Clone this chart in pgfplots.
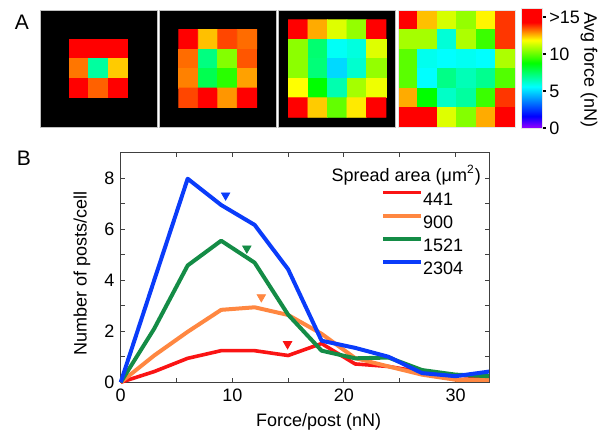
\documentclass[border=0pt]{standalone}
\usepackage{fontspec}
\setmainfont{Liberation Sans}
\usepackage{pgfplots}
\pgfplotsset{compat=1.18}
\pgfplotsset{colormap={force}{rgb255(0cm)=(150,0,255) rgb255(1.6cm)=(0,0,255) rgb255(5.6cm)=(0,255,255) rgb255(8.8cm)=(0,255,0) rgb255(11.9cm)=(255,255,0) rgb255(13cm)=(255,140,0) rgb255(14.3cm)=(255,0,0) rgb255(16.2cm)=(255,0,0)}}
\definecolor{cRed}{RGB}{250,20,20}
\definecolor{cOrange}{RGB}{255,135,65}
\definecolor{cGreen}{RGB}{20,140,70}
\definecolor{cBlue}{RGB}{10,60,250}
\begin{document}
\fontsize{9}{10.8}\selectfont
\begin{tikzpicture}
% ---------------- Panel A ----------------
\begin{axis}[
  at={(20pt,-4.5pt)}, anchor=north west,
  scale only axis, width=237.5pt, height=59pt,
  xmin=40, xmax=515, ymin=9, ymax=127, y dir=reverse,
  hide axis, clip=false,
  colormap name=force, point meta min=0, point meta max=16.2,
  colorbar,
  colorbar style={
    at={(parent axis.north east)}, anchor=north west, xshift=-5.2pt, yshift=0.35pt,
    scale only axis, width=10.5pt, height=59.85pt,
    ytick={0,5,10,15}, yticklabels={0,5,10,{>15}},
    yticklabel pos=right, ytick pos=right,
    tick align=outside, major tick length=1.6pt,
    ytick style={black, line width=0.8pt},
    axis line style={draw=black!10, line width=0.3pt},
    yticklabel style={font=\fontsize{9}{10.8}\selectfont, inner sep=1.5pt},
  },
]
\fill[black] (axis cs:40,10) rectangle (axis cs:157,127);
\fill[black] (axis cs:159.33,10) rectangle (axis cs:276.33,127);
\fill[black] (axis cs:278.67,10) rectangle (axis cs:395.67,127);
\addplot[matrix plot*, mesh/cols=3, point meta=explicit]
 table[row sep=\\, x expr={79+19.5*\thisrow{i}}, y expr={49+19.5*\thisrow{j}}, meta=c] {
 i j c\\
 0 0 15\\ 1 0 15\\ 2 0 15\\
 0 1 13.2\\ 1 1 6.8\\ 2 1 12.4\\
 0 2 15\\ 1 2 13.4\\ 2 2 15\\
};
\addplot[matrix plot*, mesh/cols=4, point meta=explicit]
 table[row sep=\\, x expr={188.58+19.5*\thisrow{i}}, y expr={39.25+19.5*\thisrow{j}}, meta=c] {
 i j c\\
 0 0 15\\ 1 0 12.5\\ 2 0 13.65\\ 3 0 13.3\\
 0 1 13.3\\ 1 1 7.2\\ 2 1 10.4\\ 3 1 13.5\\
 0 2 13.1\\ 1 2 7.8\\ 2 2 9.3\\ 3 2 12.8\\
 0 3 13.65\\ 1 3 15\\ 2 3 12.9\\ 3 3 15\\
};
\addplot[matrix plot*, mesh/cols=5, point meta=explicit]
 table[row sep=\\, x expr={298.17+19.5*\thisrow{i}}, y expr={29.5+19.5*\thisrow{j}}, meta=c] {
 i j c\\
 0 0 15\\ 1 0 12.7\\ 2 0 11.5\\ 3 0 10.6\\ 4 0 15\\
 0 1 10.5\\ 1 1 7.4\\ 2 1 5.7\\ 3 1 6.0\\ 4 1 11.5\\
 0 2 10.5\\ 1 2 7.3\\ 2 2 5.0\\ 3 2 6.2\\ 4 2 10.6\\
 0 3 11.9\\ 1 3 8.8\\ 2 3 6.6\\ 3 3 10.8\\ 4 3 11.7\\
 0 4 15\\ 1 4 12.4\\ 2 4 10.0\\ 3 4 12.1\\ 4 4 15\\
};
\addplot[matrix plot*, mesh/cols=6, point meta=explicit]
 table[row sep=\\, x expr={407.75+19.5*\thisrow{i}}, y expr={19.75+19.5*\thisrow{j}}, meta=c] {
 i j c\\
 0 0 15\\ 1 0 12.5\\ 2 0 11.4\\ 3 0 10.6\\ 4 0 12.0\\ 5 0 13.8\\
 0 1 10.8\\ 1 1 10.8\\ 2 1 6.1\\ 3 1 10.9\\ 4 1 9.5\\ 5 1 13.8\\
 0 2 9.9\\ 1 2 5.8\\ 2 2 5.6\\ 3 2 5.75\\ 4 2 5.6\\ 5 2 10.9\\
 0 3 9.9\\ 1 3 5.6\\ 2 3 7.1\\ 3 3 6.5\\ 4 3 7.0\\ 5 3 9.8\\
 0 4 12.7\\ 1 4 8.8\\ 2 4 6.3\\ 3 4 6.8\\ 4 4 9.5\\ 5 4 13.8\\
 0 5 15\\ 1 5 15\\ 2 5 11.5\\ 3 5 10.4\\ 4 5 12.7\\ 5 5 14.4\\
};
\draw[black!25, line width=0.4pt] (axis cs:40,10) rectangle (axis cs:157,127);
\draw[black!25, line width=0.4pt] (axis cs:159.33,10) rectangle (axis cs:276.33,127);
\draw[black!25, line width=0.4pt] (axis cs:278.67,10) rectangle (axis cs:395.67,127);
\draw[black!10, line width=0.4pt] (axis cs:398,10) rectangle (axis cs:515,127);
\end{axis}
\node[rotate=-90, inner sep=0pt] at (294.5pt,-35pt) {Avg force (nN)};
\node[font=\fontsize{10.5}{12}\selectfont, inner sep=0pt] at (11pt,-11pt) {A};
\node[font=\fontsize{10.5}{12}\selectfont, inner sep=0pt] at (12pt,-79.25pt) {B};
% ---------------- Panel B ----------------
\begin{axis}[
  at={(60.35pt,-76.35pt)}, anchor=north west,
  scale only axis, width=184.15pt, height=114.8pt,
  xmin=0, xmax=33, ymin=0, ymax=9,
  xtick={0,10,20,30}, ytick={0,2,4,6,8},
  minor x tick num=1, minor y tick num=1,
  tick align=inside, major tick length=2pt, minor tick length=2pt,
  axis line style={black!75, line width=0.5pt},
  every tick/.style={black!75, line width=0.5pt},
  /pgf/number format/assume math mode=true,
  xlabel={Force/post (nN)}, ylabel={Number of posts/cell},
  xlabel style={at={(axis description cs:0.5376,-0.1707)}, anchor=center},
  ylabel style={at={(axis description cs:-0.1051,0.474)}, anchor=center},
  clip=false,
  legend style={at={(axis cs:23.3,7.53)}, anchor=north west, draw=none, fill=none,
    inner sep=0pt, row sep=4.15pt,
    nodes={inner sep=0pt, text height=6.4pt, text depth=0pt},
    /tikz/every even column/.append style={column sep=3.35pt}},
  legend cell align=left,
  legend image code/.code={\draw[#1] (0pt,3.2pt) -- (19pt,3.2pt);},
]
\addplot[cRed, line width=1.8pt, line join=round] coordinates {(0,0)(3,0.42)(6,0.94)(9,1.24)(12,1.24)(15,1.05)(18,1.52)(21,0.72)(24,0.62)(27,0.4)(30,0.28)(33,0.2)};
\addlegendentry{441}
\addplot[cOrange, line width=2pt, line join=round] coordinates {(0,0)(3,1.05)(6,1.98)(9,2.84)(12,2.94)(15,2.64)(18,1.9)(21,0.95)(24,0.62)(27,0.3)(30,0.1)(33,0.1)};
\addlegendentry{900}
\addplot[cGreen, line width=2pt, line join=round] coordinates {(0,0)(3,2.1)(6,4.58)(9,5.55)(12,4.69)(15,2.65)(18,1.24)(21,0.94)(24,0.97)(27,0.48)(30,0.3)(33,0.24)};
\addlegendentry{1521}
\addplot[cBlue, line width=2pt, line join=round] coordinates {(0,0)(3,4.0)(6,7.98)(9,6.95)(12,6.17)(15,4.43)(18,1.63)(21,1.35)(24,1.0)(27,0.36)(30,0.24)(33,0.42)};
\addlegendentry{2304}
\addplot[only marks, mark=triangle*, mark size=2.4pt, mark options={rotate=180, draw=cBlue, fill=cBlue}, forget plot] coordinates {(9.4,7.33)};
\addplot[only marks, mark=triangle*, mark size=2.4pt, mark options={rotate=180, draw=cGreen, fill=cGreen}, forget plot] coordinates {(11.3,5.25)};
\addplot[only marks, mark=triangle*, mark size=2.4pt, mark options={rotate=180, draw=cOrange, fill=cOrange}, forget plot] coordinates {(12.6,3.34)};
\addplot[only marks, mark=triangle*, mark size=2.4pt, mark options={rotate=180, draw=cRed, fill=cRed}, forget plot] coordinates {(14.95,1.5)};
\node[anchor=east, inner sep=0pt] at (axis cs:32.3,8.13) {Spread area (μm\textsuperscript{2})};
\end{axis}
\pgfresetboundingbox
\path (0,0) rectangle (299pt,-217.5pt);
\end{tikzpicture}
\end{document}
